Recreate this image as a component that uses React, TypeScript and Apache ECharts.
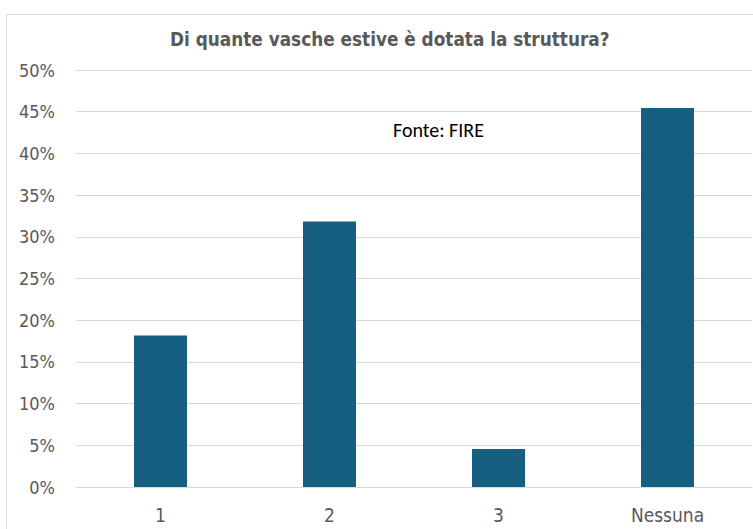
import React, { useEffect, useRef } from "react";
import * as echarts from "echarts";

const categories = ["1", "2", "3", "Nessuna"];
const values = [18.18, 31.82, 4.55, 45.45];
const yTicks = [0, 5, 10, 15, 20, 25, 30, 35, 40, 45, 50];
const titleText = "Di quante vasche estive è dotata la struttura?";
const noteText = "Fonte: FIRE";

export default function App() {
  const ref = useRef<HTMLDivElement>(null);
  useEffect(() => {
    document.body.style.margin = "0";
    const chart = echarts.init(ref.current!, undefined, { renderer: "svg" });
    const font = "'DejaVu Sans Condensed', 'Roboto', sans-serif";
    chart.setOption({
      animation: false,
      backgroundColor: "#ffffff",
      title: {
        text: titleText,
        left: 165,
        top: 25,
        textStyle: { fontFamily: font, fontSize: 18.8, fontWeight: "bold", color: "#595959" },
      },
      graphic: [
        {
          type: "rect",
          shape: { x: 6.5, y: 14.5, width: 800, height: 600 },
          style: { fill: "none", stroke: "#d9d9d9", lineWidth: 1 },
          silent: true,
        },
        {
          type: "text",
          left: 393,
          top: 120,
          style: { text: noteText, fontFamily: "Carlito, 'Liberation Sans', sans-serif", fontSize: 20, fill: "#000000" },
        },
      ],
      grid: { left: 76, right: 1, top: 70, bottom: 42, containLabel: false },
      xAxis: {
        type: "category",
        data: categories,
        axisLine: { show: true, lineStyle: { color: "#d9d9d9" } },
        axisTick: { show: false },
        axisLabel: { fontFamily: font, fontSize: 19, color: "#595959", margin: 18 },
      },
      yAxis: {
        type: "value",
        min: yTicks[0],
        max: yTicks[yTicks.length - 1],
        interval: 5,
        axisLine: { show: false },
        axisTick: { show: false },
        splitLine: { lineStyle: { color: "#d9d9d9" } },
        axisLabel: { fontFamily: font, fontSize: 18, color: "#595959", margin: 21, formatter: (v: number) => `${v}%` },
      },
      series: [
        {
          type: "bar",
          data: values,
          barWidth: 53,
          itemStyle: { color: "#175f80" },
        },
      ],
    });
    return () => chart.dispose();
  }, []);
  return <div ref={ref} style={{ width: 753, height: 529 }} />;
}
